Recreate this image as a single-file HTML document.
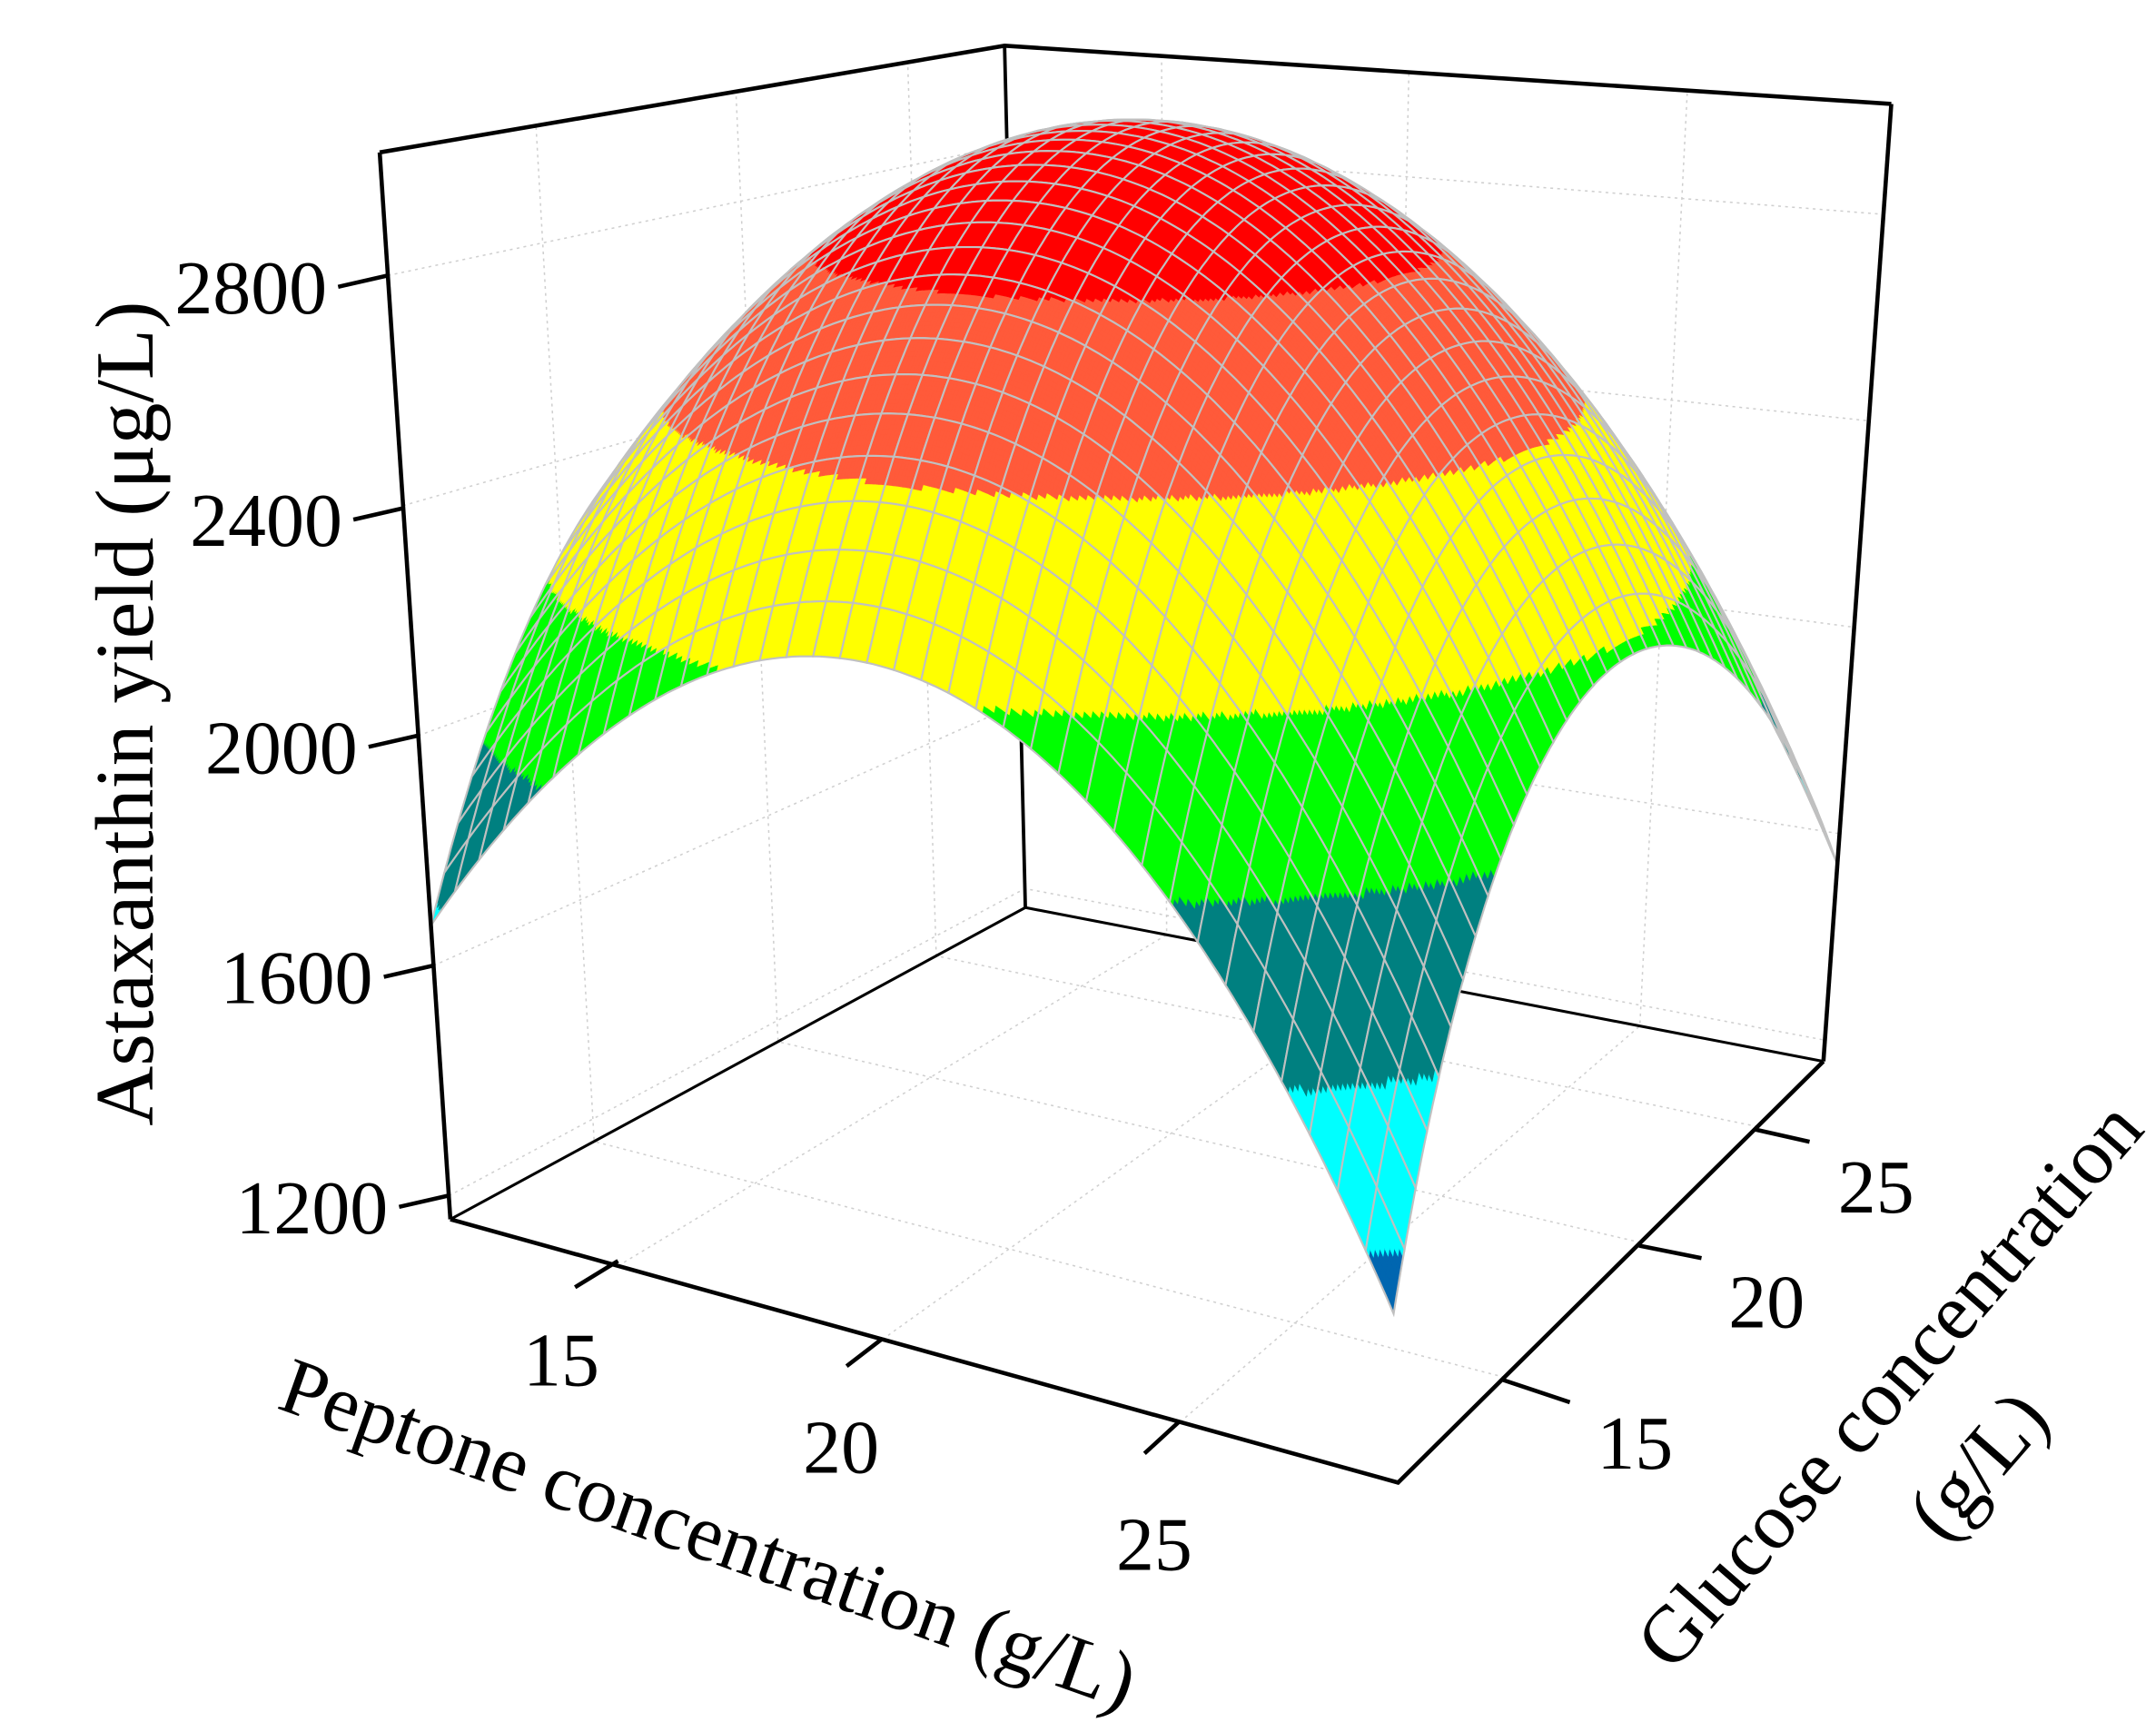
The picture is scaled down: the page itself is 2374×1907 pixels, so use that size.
<!DOCTYPE html>
<html><head><meta charset="utf-8"><style>
html,body{margin:0;padding:0;background:#fff;}
svg{display:block;}
text{font-family:"Liberation Serif",serif;fill:#000;}
</style></head><body>
<svg id="s" width="2374" height="1907" viewBox="0 0 1556 1250" xmlns="http://www.w3.org/2000/svg">
<rect width="1556" height="1250" fill="#fff"/>
<g id="walls"></g>
<g stroke="#000" fill="none">
<line x1="725" y1="33" x2="740" y2="655" stroke-width="2.5"/>
<polyline points="325,880 740,655 1316,766" stroke-width="2"/>
</g>
<g id="surf"></g>
<g id="axes" stroke="#000" stroke-width="3" fill="none">
<polyline points="274,110 725,33 1365,75"/>
<line x1="274" y1="110" x2="325" y2="880"/>
<line x1="1365" y1="75" x2="1316" y2="766"/>
<polyline points="325,880 1009,1070 1316,766"/>
<line x1="279" y1="199" x2="244" y2="207"/>
<line x1="290" y1="367" x2="255" y2="375"/>
<line x1="301" y1="531" x2="266" y2="539"/>
<line x1="312" y1="697" x2="277" y2="705"/>
<line x1="323" y1="863" x2="288" y2="871"/>
<line x1="446" y1="910" x2="415" y2="929"/>
<line x1="637" y1="966" x2="611" y2="986"/>
<line x1="851" y1="1026" x2="826" y2="1049"/>
<line x1="1085" y1="996" x2="1133" y2="1012"/>
<line x1="1183" y1="899" x2="1228" y2="908"/>
<line x1="1266" y1="815" x2="1306" y2="824"/>
</g>
<g font-size="55" text-anchor="end">
<text x="236" y="226">2800</text>
<text x="247" y="394">2400</text>
<text x="258" y="558">2000</text>
<text x="269" y="724">1600</text>
<text x="280" y="890">1200</text>
</g>
<g font-size="55" text-anchor="middle">
<text x="405" y="1000">15</text>
<text x="607" y="1063">20</text>
<text x="833" y="1133">25</text>
<text x="1180" y="1060">15</text>
<text x="1275" y="958">20</text>
<text x="1354" y="875">25</text>
</g>
<text font-size="60" text-anchor="middle" transform="translate(110,515) rotate(-90)">Astaxanthin yield (μg/L)</text>
<text font-size="58" text-anchor="middle" transform="translate(505,1125) rotate(19.6)">Peptone concentration (g/L)</text>
<text font-size="58" text-anchor="middle" transform="translate(1378,1012) rotate(-48.9)">Glucose concentration</text>
<text font-size="58" text-anchor="middle" transform="translate(1442,1070) rotate(-48.9)">(g/L)</text>
</svg>
<script>
(function(){
var NS="http://www.w3.org/2000/svg";
var F00=[325,880],F10=[1009,1070],F11=[1316,766],F01=[740,655];
var T00=[274,110],T10=[985,155],T11=[1365,75],T01=[725,33];
var ZMIN=1159,ZMAX=3014;
function bil(a,b,c,d,u,v){return [a[0]*(1-u)*(1-v)+b[0]*u*(1-v)+c[0]*u*v+d[0]*(1-u)*v, a[1]*(1-u)*(1-v)+b[1]*u*(1-v)+c[1]*u*v+d[1]*(1-u)*v];}
function P(u,v,z){var w=(z-ZMIN)/(ZMAX-ZMIN);var f=bil(F00,F10,F11,F01,u,v),t=bil(T00,T10,T11,T01,u,v);return [f[0]+(t[0]-f[0])*w,f[1]+(t[1]-f[1])*w];}
function Z(u,v){var du=u-0.5,dv=v-0.5;return 3010-2812*(du*du+dv*dv)+4*du*dv-65*(du+dv)+197*(dv-du);}
function col(z){if(z>2780)return"#ff0000";if(z>2500)return"#ff5a3a";if(z>2200)return"#ffff00";if(z>1950)return"#00ff00";if(z>1700)return"#008080";if(z>1480)return"#00ffff";return"#0066b0";}
function el(tag,attrs,parent){var e=document.createElementNS(NS,tag);for(var k in attrs)e.setAttribute(k,attrs[k]);parent.appendChild(e);return e;}
function f2(p){return p[0].toFixed(1)+","+p[1].toFixed(1);}
var walls=document.getElementById("walls");
var g={stroke:"#cfcfcf","stroke-width":1,"stroke-dasharray":"2,3",fill:"none"};
var zt=[1200,1600,2000,2400,2800],pt=[0.177,0.456,0.77],gt=[0.25,0.57,0.845];
zt.forEach(function(z){el("polyline",Object.assign({points:f2(P(0,0,z))+" "+f2(P(0,1,z))+" "+f2(P(1,1,z))},g),walls);});
pt.forEach(function(u){el("polyline",Object.assign({points:f2(P(u,0,ZMIN))+" "+f2(P(u,1,ZMIN))+" "+f2(P(u,1,ZMAX))},g),walls);});
gt.forEach(function(v){el("polyline",Object.assign({points:f2(P(1,v,ZMIN))+" "+f2(P(0,v,ZMIN))+" "+f2(P(0,v,ZMAX))},g),walls);});
var surf=document.getElementById("surf");
var N=36,S=8;
var cells=[];
for(var i=0;i<N;i++)for(var j=0;j<N;j++)cells.push([i,j]);
cells.sort(function(a,b){return (a[0]-a[1])-(b[0]-b[1]) || (b[0]+b[1])-(a[0]+a[1]);});
var ls={stroke:"#c0c0c0","stroke-width":1.4,fill:"none"};
var frag=document.createDocumentFragment();
cells.forEach(function(q){
 var i=q[0],j=q[1];
 for(var a=0;a<S;a++)for(var b=0;b<S;b++){
  var u0=(i+a/S)/N,u1=(i+(a+1)/S)/N,v0=(j+b/S)/N,v1=(j+(b+1)/S)/N;
  var c=col(Z((u0+u1)/2,(v0+v1)/2));
  var p00=P(u0,v0,Z(u0,v0)),p10=P(u1,v0,Z(u1,v0)),p11=P(u1,v1,Z(u1,v1)),p01=P(u0,v1,Z(u0,v1));
  el("polygon",{points:f2(p00)+" "+f2(p10)+" "+f2(p11)+" "+f2(p01),fill:c,stroke:c,"stroke-width":0.5},frag);
 }
 var pts=[];
 var U0=i/N,U1=(i+1)/N,V0=j/N,V1=(j+1)/N,k,u,v;
 for(k=0;k<=4;k++){u=U0+(U1-U0)*k/4;pts.push(f2(P(u,V0,Z(u,V0))));}
 for(k=1;k<=4;k++){v=V0+(V1-V0)*k/4;pts.push(f2(P(U1,v,Z(U1,v))));}
 for(k=3;k>=0;k--){u=U0+(U1-U0)*k/4;pts.push(f2(P(u,V1,Z(u,V1))));}
 for(k=3;k>=0;k--){v=V0+(V1-V0)*k/4;pts.push(f2(P(U0,v,Z(U0,v))));}
 el("polygon",Object.assign({points:pts.join(" ")},ls),frag);
});
surf.appendChild(frag);
})();
</script>
</body></html>
